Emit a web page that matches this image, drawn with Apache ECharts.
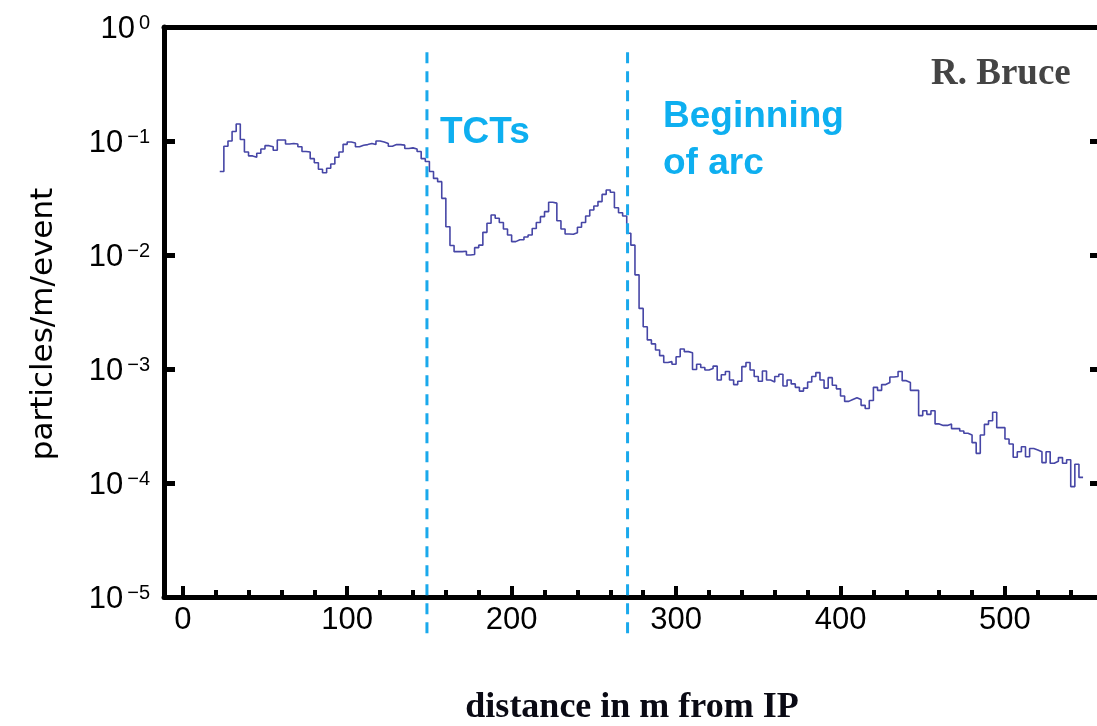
<!DOCTYPE html>
<html><head><meta charset="utf-8">
<script src="https://cdn.jsdelivr.net/npm/echarts@6/dist/echarts.min.js"></script>
<style>html,body{margin:0;padding:0;background:#fff}#c{width:1097px;height:726px}</style>
</head><body><div id="c"></div>
<script>
// histogram: bin left edge = binStart + i*binWidth (metres from IP)
const binStart = 22.5;
const binWidth = 2.5;
const density = [
  0.054,0.090,0.100,0.121,0.141,0.103,0.080,0.074,0.072,0.078,
  0.085,0.091,0.089,0.083,0.102,0.102,0.094,0.095,0.094,0.089,
  0.081,0.080,0.070,0.0645,0.0565,0.0527,0.0576,0.0628,0.072,0.080,
  0.0935,0.098,0.096,0.089,0.0917,0.093,0.095,0.093,0.100,0.098,
  0.095,0.090,0.093,0.093,0.092,0.086,0.087,0.085,0.081,0.070,
  0.066,0.054,0.047,0.044,0.0314,0.0177,0.0121,0.0107,0.0107,0.0108,
  0.0100,0.0101,0.0116,0.0122,0.0158,0.019,0.0224,0.021,0.0193,0.0169,
  0.015,0.0131,0.0136,0.0136,0.0144,0.015,0.0171,0.0193,0.0217,0.024,
  0.029,0.0285,0.020,0.0169,0.0153,0.0152,0.0157,0.0175,0.0193,0.022,
  0.0248,0.0269,0.0294,0.034,0.0372,0.0355,0.026,0.0235,0.022,0.0155,
  0.0122,0.0067,0.0034,0.00235,0.0018,0.00166,0.00147,0.00131,0.00114,0.00116,
  0.00110,0.00128,0.00150,0.00142,0.00139,0.00099,0.00110,0.00103,0.00098,0.00101,
  0.00106,0.00080,0.00089,0.00095,0.00080,0.00073,0.00078,0.00105,0.00114,0.00098,
  0.00086,0.00078,0.00096,0.00080,0.00077,0.00086,0.00090,0.00071,0.00080,0.00074,
  0.00069,0.00064,0.00068,0.00077,0.00086,0.00093,0.00080,0.00068,0.00084,0.00072,
  0.00067,0.00058,0.00052,0.00054,0.00056,0.00054,0.00048,0.00045,0.00053,0.00069,
  0.00065,0.00073,0.00076,0.00085,0.00086,0.00095,0.00079,0.00076,0.00065,0.00065,
  0.00039,0.00043,0.00040,0.00043,0.00033,0.00032,0.00032,0.00033,0.00030,0.00030,
  0.000286,0.000273,0.000264,0.000226,0.000182,0.000264,0.000327,0.000352,0.000417,0.000306,
  0.000306,0.000243,0.00022,0.000168,0.000188,0.000208,0.00017,0.000201,0.000195,0.000188,
  0.000151,0.000188,0.000149,0.000155,0.000167,0.000149,0.000160,0.000093,0.000146,0.000112
];
const xRange = [-11.4, 557.8];
const yRange = [1e-5, 1];
const xMajorTicks = [0, 100, 200, 300, 400, 500];
const xMinorTicks = [20,40,60,80,120,140,160,180,220,240,260,280,320,340,360,380,420,440,460,480,520,540];
const markerPositions = [148.5, 270.5];   // TCTs, beginning of arc
const markerSpan = [0.6, 4.2e-6];

const stepData = density.map((v, i) => [binStart + i * binWidth, v]);
stepData.push([binStart + density.length * binWidth, density[density.length - 1]]);

const SANS = '"Liberation Sans", Arial, sans-serif';
const SERIF = '"Liberation Serif", "Times New Roman", serif';
const BLUE = '#0eaff0';

const chart = echarts.init(document.getElementById('c'), null, {renderer: 'canvas'});
const gridBox = {left: 164, top: 27, width: 936, bottom: 129, containLabel: false, outerBoundsMode: 'none'};

const series = [{
  type: 'line', xAxisIndex: 0, yAxisIndex: 0, data: stepData, step: 'end',
  showSymbol: false, symbol: 'none', z: 3,
  lineStyle: {color: '#4646a6', width: 1.6}
}];
markerPositions.forEach(p => {
  series.push({
    type: 'line', xAxisIndex: 0, yAxisIndex: 0, clip: false, symbol: 'none', z: 4,
    data: [[p, markerSpan[0]], [p, markerSpan[1]]],
    lineStyle: {color: '#1aa9ec', width: 3, type: [11, 8]}
  });
});

chart.setOption({
  animation: false,
  backgroundColor: '#fff',
  grid: [Object.assign({}, gridBox), Object.assign({}, gridBox)],
  xAxis: [{
    type: 'value', gridIndex: 0, position: 'bottom', min: xRange[0], max: xRange[1],
    axisLine: {onZero: false, lineStyle: {color: '#000', width: 5}},
    axisTick: {inside: true, length: 11, customValues: xMajorTicks, lineStyle: {color: '#000', width: 4}},
    axisLabel: {customValues: xMajorTicks, color: '#000', fontSize: 31, fontFamily: SANS, margin: 8},
    splitLine: {show: false}
  }, {
    type: 'value', gridIndex: 0, position: 'top', min: xRange[0], max: xRange[1],
    axisLine: {onZero: false, lineStyle: {color: '#000', width: 5}},
    axisTick: {show: false}, axisLabel: {show: false}, splitLine: {show: false}
  }, {
    type: 'value', gridIndex: 1, position: 'bottom', min: xRange[0], max: xRange[1],
    axisLine: {show: false, onZero: false},
    axisTick: {inside: true, length: 7, customValues: xMinorTicks, lineStyle: {color: '#000', width: 4}},
    axisLabel: {show: false}, splitLine: {show: false}
  }],
  yAxis: [{
    type: 'log', gridIndex: 0, position: 'left', min: yRange[0], max: yRange[1], logBase: 10,
    axisLine: {onZero: false, lineStyle: {color: '#000', width: 5}},
    axisTick: {inside: true, length: 11, lineStyle: {color: '#000', width: 5}},
    axisLabel: {
      margin: 14, padding: [5, 0, 0, 0],
      formatter: v => {
        const e = Math.round(Math.log10(v));
        return '{b|10}{s|' + (e === 0 ? '0' : '\u2212' + (-e)) + '}';
      },
      rich: {
        b: {fontSize: 31, fontFamily: SANS, color: '#000', lineHeight: 32},
        s: {fontSize: 20, fontFamily: SANS, color: '#000', lineHeight: 20, verticalAlign: 'top', padding: [0, 0, 0, 4]}
      }
    },
    splitLine: {show: false}
  }, {
    type: 'log', gridIndex: 0, position: 'right', min: yRange[0], max: yRange[1], logBase: 10,
    axisLine: {show: false, onZero: false},
    axisTick: {inside: true, length: 10, lineStyle: {color: '#000', width: 5}},
    axisLabel: {show: false}, splitLine: {show: false}
  }, {
    type: 'value', gridIndex: 1, show: false, axisLine: {onZero: false}
  }],
  series: series,
  graphic: [
    {type: 'text', x: 931, y: 74.5, z: 10, style: {text: 'R. Bruce', font: 'bold 37px ' + SERIF, fill: '#444',
      textAlign: 'left', textVerticalAlign: 'middle', align: 'left', verticalAlign: 'middle'}},
    {type: 'text', x: 440, y: 132.5, z: 10, style: {text: 'TCTs', font: 'bold 37px ' + SANS, fill: BLUE,
      textAlign: 'left', textVerticalAlign: 'middle', align: 'left', verticalAlign: 'middle'}},
    {type: 'text', x: 663, y: 117.2, z: 10, style: {text: 'Beginning', font: 'bold 37px ' + SANS, fill: BLUE,
      textAlign: 'left', textVerticalAlign: 'middle', align: 'left', verticalAlign: 'middle'}},
    {type: 'text', x: 663, y: 163.9, z: 10, style: {text: 'of arc', font: 'bold 37px ' + SANS, fill: BLUE,
      textAlign: 'left', textVerticalAlign: 'middle', align: 'left', verticalAlign: 'middle'}},
    {type: 'text', x: 632, y: 707.8, z: 10, style: {text: 'distance in m from IP', font: 'bold 36px ' + SERIF, fill: '#0a0a14',
      textAlign: 'center', textVerticalAlign: 'middle', align: 'center', verticalAlign: 'middle'}},
    {type: 'text', x: 44, y: 324, rotation: Math.PI / 2, z: 10, style: {text: 'particles/m/event', font: '31px "DejaVu Sans", sans-serif', fill: '#000',
      textAlign: 'center', textVerticalAlign: 'middle', align: 'center', verticalAlign: 'middle'}}
  ]
});
</script></body></html>
